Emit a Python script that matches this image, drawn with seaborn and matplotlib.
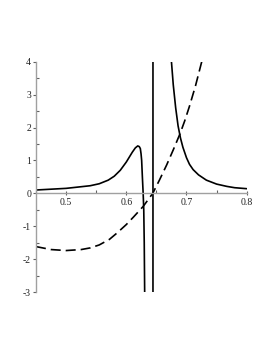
import numpy as np
import pandas as pd
import matplotlib
matplotlib.use("Agg")
import matplotlib.pyplot as plt
import seaborn as sns
from matplotlib.ticker import MultipleLocator, FormatStrFormatter

# solid curve; the pole jump goes off-screen and back
solid_x = [0.45, 0.48, 0.50, 0.52, 0.54, 0.555, 0.57, 0.58, 0.59, 0.60, 0.605,
           0.61, 0.615, 0.619, 0.6215, 0.6233, 0.6245, 0.6255, 0.6267, 0.628,
           0.629, 0.6298, 0.6305, 0.632,
           0.6443, 0.6443, 0.673,
           0.675, 0.678, 0.682, 0.686, 0.690, 0.694, 0.700, 0.705,
           0.711, 0.720, 0.733, 0.750, 0.767, 0.780, 0.800]
solid_y = [0.10, 0.13, 0.15, 0.19, 0.23, 0.29, 0.40, 0.52, 0.70, 0.95, 1.10,
           1.25, 1.38, 1.44, 1.42, 1.36, 1.20, 1.00, 0.50, 0.00,
           -0.50, -1.50, -3.00, -6.0,
           -6.0, 6.0, 6.0,
           4.00, 3.30, 2.60, 2.05, 1.68, 1.40, 1.08, 0.88,
           0.72, 0.56, 0.40, 0.28, 0.21, 0.17, 0.14]

dash_x = [0.45, 0.475, 0.50, 0.525, 0.54, 0.555, 0.572, 0.585, 0.60, 0.612,
          0.628, 0.644, 0.655, 0.667, 0.678, 0.689, 0.697, 0.705, 0.715, 0.725, 0.73]
dash_y = [-1.62, -1.71, -1.74, -1.71, -1.66, -1.57, -1.40, -1.20, -0.95, -0.72,
          -0.40, 0.00, 0.40, 0.86, 1.32, 1.80, 2.20, 2.65, 3.27, 3.98, 4.35]

x_ticks = [0.5, 0.6, 0.7, 0.8]
y_ticks = [-3, -2, -1, 0, 1, 2, 3, 4]

solid = pd.DataFrame({"x": solid_x, "y": solid_y})
dash = pd.DataFrame({"x": dash_x, "y": dash_y})

sns.set_theme(style="white")
plt.rcParams["font.family"] = ["Liberation Serif", "DejaVu Serif"]
plt.rcParams["axes.unicode_minus"] = False

fig = plt.figure(figsize=(2.73, 3.53), dpi=100)
ax = fig.add_axes([36 / 273, 61 / 353, 210.7 / 273, 230.3 / 353])

sns.lineplot(data=solid, x="x", y="y", sort=False, estimator=None,
             color="black", linewidth=1.2, ax=ax)
sns.lineplot(data=dash, x="x", y="y", sort=False, estimator=None,
             color="black", linewidth=1.2, dashes=False, ax=ax)
ax.lines[-1].set_dashes((6, 3))

ax.set_xlim(0.45, 0.8)
ax.set_ylim(-3, 4)
ax.set_xlabel("")
ax.set_ylabel("")

for s in ["top", "right"]:
    ax.spines[s].set_visible(False)
ax.spines["bottom"].set_position(("data", 0))
for s in ["left", "bottom"]:
    ax.spines[s].set_color("#a0a0a0")
    ax.spines[s].set_linewidth(1.0)

ax.set_xticks(x_ticks)
ax.set_yticks(y_ticks)
ax.xaxis.set_major_formatter(FormatStrFormatter("%.1f"))
ax.yaxis.set_major_formatter(FormatStrFormatter("%d"))
ax.xaxis.set_minor_locator(MultipleLocator(0.05))
ax.yaxis.set_minor_locator(MultipleLocator(0.5))

ax.tick_params(axis="x", which="major", direction="inout", length=3, width=0.8,
               color="#606060", labelsize=7, labelcolor="#202020", pad=2, bottom=True)
ax.tick_params(axis="x", which="minor", direction="in", length=2, width=0.8,
               color="#606060", bottom=True)
ax.tick_params(axis="y", which="major", direction="out", length=2.5, width=0.8,
               color="#606060", labelsize=7, labelcolor="#202020", pad=1, left=True)
ax.tick_params(axis="y", which="minor", direction="in", length=2, width=0.8,
               color="#606060", left=True)
ax.grid(False)

fig.savefig("out.png", dpi=100)
